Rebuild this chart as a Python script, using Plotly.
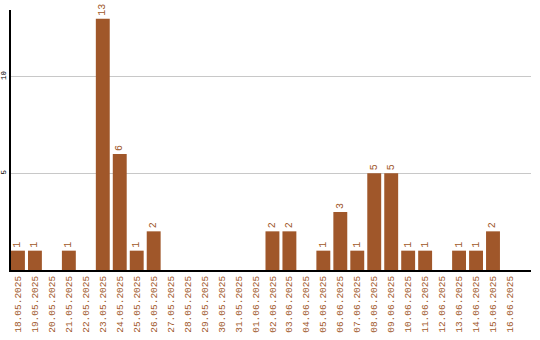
import plotly.graph_objects as go

dates = ["18.05.2025","19.05.2025","20.05.2025","21.05.2025","22.05.2025","23.05.2025",
         "24.05.2025","25.05.2025","26.05.2025","27.05.2025","28.05.2025","29.05.2025",
         "30.05.2025","31.05.2025","01.06.2025","02.06.2025","03.06.2025","04.06.2025",
         "05.06.2025","06.06.2025","07.06.2025","08.06.2025","09.06.2025","10.06.2025",
         "11.06.2025","12.06.2025","13.06.2025","14.06.2025","15.06.2025","16.06.2025"]
counts = [1,1,0,1,0,13,6,1,2,0,0,0,0,0,0,2,2,0,1,3,1,5,5,1,1,0,1,1,2,0]

color = "#A0572A"
font = "Liberation Mono, DejaVu Sans Mono, monospace"

fig = go.Figure(go.Bar(
    x=dates, y=counts,
    marker=dict(color=color, line=dict(width=0)),
    text=[str(c) if c > 0 else "" for c in counts],
    textposition="outside", textangle=-90,
    textfont=dict(color=color, size=10, family=font),
    cliponaxis=False,
))
fig.update_layout(
    width=540, height=340,
    margin=dict(l=11, r=9, t=10, b=70),
    plot_bgcolor="white", paper_bgcolor="white",
    bargap=0.18, showlegend=False,
    font=dict(family=font, size=10),
)
fig.update_xaxes(
    type="category", range=[-0.41, 30.24], automargin=False,
    tickangle=-90, tickfont=dict(color=color, size=9.5, family=font),
    showline=True, linecolor="black", linewidth=2, ticks="",
    showgrid=False,
)
fig.update_yaxes(
    range=[0, 13.45], tickvals=[5, 10], tickangle=-90, automargin=False,
    tickfont=dict(color="black", size=7.5, family=font), ticklabelstandoff=0,
    showline=True, linecolor="black", linewidth=2,
    showgrid=True, gridcolor="#c8c8c8", gridwidth=1, zeroline=False, ticks="",
)
fig.write_html("out.html")
